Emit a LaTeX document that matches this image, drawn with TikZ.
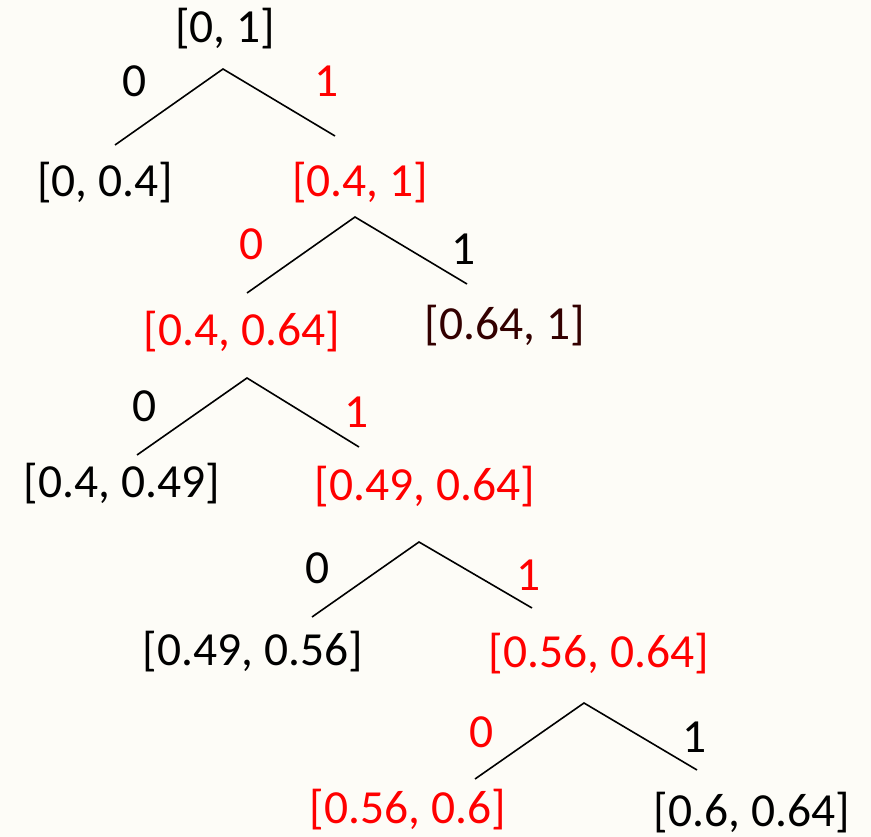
\documentclass[tikz,border=0pt]{standalone}
\usepackage{fontspec}
\setmainfont{Carlito}
\definecolor{bg}{RGB}{253,252,247}
\definecolor{hl}{RGB}{255,0,0}
\definecolor{dk}{RGB}{51,0,0}
\begin{document}
\begin{tikzpicture}[x=1pt,y=-1pt,
  lbl/.style={anchor=base,inner sep=0pt,font=\fontsize{47.5}{52}\selectfont},
  red/.style={lbl,text=hl},
  blk/.style={lbl,text=black},
  edge/.style={line width=1.6pt,black}]
\fill[bg] (0,0) rectangle (871,837);
\useasboundingbox (0,0) rectangle (871,837);
% intervals and bit labels
\node[blk] (n0) at (225,43) {[0, 1]};
\node[blk] (l1a) at (135,97) {0};
\node[red] (l1b) at (327,97) {1};
\node[blk] (n1a) at (105,197) {[0, 0.4]};
\node[red] (n1b) at (360,197) {[0.4, 1]};
\node[red] (l2a) at (252,260) {0};
\node[blk] (l2b) at (464,265) {1};
\node[red] (n2a) at (242,345) {[0.4, 0.64]};
\node[lbl,text=dk] (n2b) at (505,340) {[0.64, 1]};
\node[blk] (l3a) at (145,421) {0};
\node[red] (l3b) at (357,427) {1};
\node[blk] (n3a) at (122,497) {[0.4, 0.49]};
\node[red] (n3b) at (425,500) {[0.49, 0.64]};
\node[blk] (l4a) at (318,583) {0};
\node[red] (l4b) at (529,590) {1};
\node[blk] (n4a) at (253,665) {[0.49, 0.56]};
\node[red] (n4b) at (599,667) {[0.56, 0.64]};
\node[red] (l5a) at (482,747) {0};
\node[blk] (l5b) at (695,752) {1};
\node[red] (n5a) at (408,823) {[0.56, 0.6]};
\node[blk] (n5b) at (752,826) {[0.6, 0.64]};
% branch points
\coordinate (a1) at (223,69);  \coordinate (e1a) at (115,145); \coordinate (e1b) at (335,136);
\coordinate (a2) at (355,217); \coordinate (e2a) at (247,293); \coordinate (e2b) at (467,284);
\coordinate (a3) at (247,378); \coordinate (e3a) at (137,455); \coordinate (e3b) at (359,447);
\coordinate (a4) at (419,542); \coordinate (e4a) at (312,617); \coordinate (e4b) at (532,608);
\coordinate (a5) at (584,703); \coordinate (e5a) at (475,779); \coordinate (e5b) at (697,770);
\draw[edge] (e1a) -- (a1) -- (e1b);
\draw[edge] (e2a) -- (a2) -- (e2b);
\draw[edge] (e3a) -- (a3) -- (e3b);
\draw[edge] (e4a) -- (a4) -- (e4b);
\draw[edge] (e5a) -- (a5) -- (e5b);
\end{tikzpicture}
\end{document}
